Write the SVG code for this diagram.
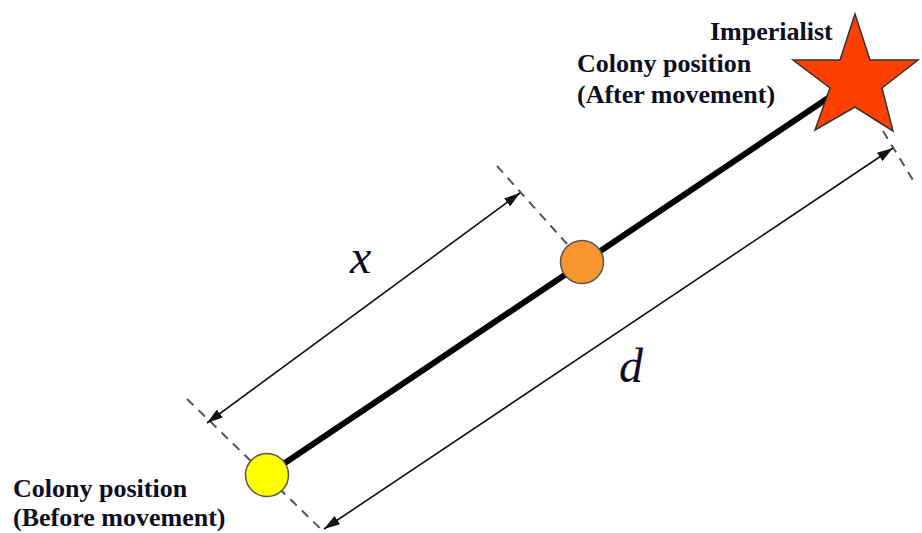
<svg xmlns="http://www.w3.org/2000/svg" width="922" height="533" viewBox="0 0 922 533">
<style>
.lbl{font-family:"Liberation Serif","Times New Roman",serif;font-weight:bold;font-size:26px;fill:#0d0d22}
.var{font-family:"Liberation Serif","Times New Roman",serif;font-style:italic;font-size:48px;fill:#0d0d22}
.dash{stroke:#555;stroke-width:2;stroke-dasharray:9,7;fill:none}
.dim{stroke:#111;stroke-width:1.6;fill:none;marker-start:url(#ah);marker-end:url(#ah)}
</style>
<defs>
<marker id="ah" viewBox="0 0 16 10" markerWidth="16" markerHeight="10" refX="16" refY="5" orient="auto-start-reverse" markerUnits="userSpaceOnUse">
<path d="M0,0 L16,5 L0,10 z" fill="#111"/>
</marker>
</defs>
<g id="connectors">
<line class="dash" x1="187" y1="399" x2="324" y2="532"/>
<line class="dash" x1="497" y1="166" x2="567" y2="244"/>
<line class="dash" x1="883" y1="131" x2="916" y2="185"/>
<line x1="267" y1="475" x2="840" y2="90" stroke="#000" stroke-width="6"/>
<line class="dim" x1="207" y1="423" x2="520" y2="193"/>
<line class="dim" x1="324" y1="529" x2="893" y2="148"/>
</g>
<g id="yellow-colony">
<circle cx="267" cy="475" r="21.5" fill="#ffff00" stroke="#555" stroke-width="1.5"/>
</g>
<g id="orange-colony">
<circle cx="582" cy="262" r="21.5" fill="#f7962f" stroke="#555" stroke-width="1.5"/>
</g>
<g id="imperialist">
<polygon points="855,14 870,60 918,60 882,88 893,131 855,107 815,130 830,88 793,60 840,60" fill="#ff4000" stroke="#333" stroke-width="1.5" stroke-linejoin="miter"/>
</g>
<g id="labels">
<text class="lbl" x="710" y="40">Imperialist</text>
<text class="lbl" x="577" y="72">Colony position</text>
<text class="lbl" x="577" y="103">(After movement)</text>
<text class="lbl" x="13" y="497">Colony position</text>
<text class="lbl" x="13" y="526">(Before movement)</text>
<text class="var" x="350" y="273">x</text>
<text class="var" x="619" y="382">d</text>
</g>
</svg>
